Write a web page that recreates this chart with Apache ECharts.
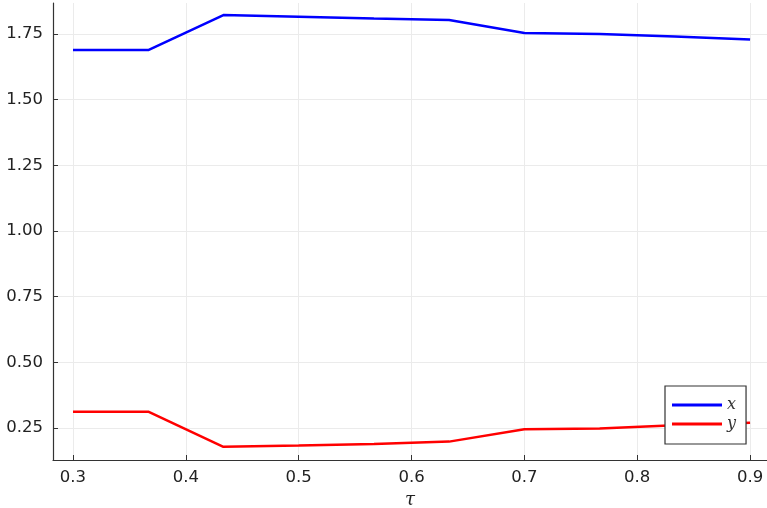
<!DOCTYPE html>
<html><head><meta charset="utf-8">
<script src="https://cdn.jsdelivr.net/npm/echarts@6/dist/echarts.min.js"></script>
<style>html,body{margin:0;padding:0;background:#fff}#c{width:767px;height:508px}</style>
</head><body><div id="c"></div>
<script>
const tau = [0.3, 0.3667, 0.4333, 0.5, 0.5667, 0.6333, 0.7, 0.7667, 0.8333, 0.9];
const xVals = [1.689, 1.689, 1.822, 1.816, 1.809, 1.803, 1.754, 1.750, 1.740, 1.729];
const yVals = [0.312, 0.312, 0.178, 0.183, 0.189, 0.198, 0.245, 0.248, 0.260, 0.270];
const yTicks = [0.25, 0.5, 0.75, 1.0, 1.25, 1.5, 1.75];
const xTicks = [0.3, 0.4, 0.5, 0.6, 0.7, 0.8, 0.9];
const seriesNames = ['x', 'y'];

const chart = echarts.init(document.getElementById('c'));
const lab = {color:'#222', fontFamily:'DejaVu Sans', fontSize:16.5};
chart.setOption({
  animation:false,
  grid:{left:53, right:0, top:3, bottom:48, outerBoundsMode:'none', containLabel:false},
  xAxis:{type:'value', min:0.2823, max:0.915,
    name:'τ', nameLocation:'middle', nameGap:31,
    nameTextStyle:{fontFamily:'DejaVu Serif', fontStyle:'italic', fontSize:18, color:'#222'},
    axisLine:{show:true, onZero:false, lineStyle:{color:'#333', width:1.2}},
    axisTick:{show:true, inside:true, length:5, customValues:xTicks, lineStyle:{color:'#333'}},
    axisLabel:Object.assign({customValues:xTicks, margin:9, formatter:v=>v.toFixed(1)}, lab),
    splitLine:{show:true, lineStyle:{color:'#ebebeb', width:1}}
  },
  yAxis:{type:'value', min:0.128, max:1.868,
    axisLine:{show:true, onZero:false, lineStyle:{color:'#333', width:1.2}},
    axisTick:{show:true, inside:true, length:5, customValues:yTicks, lineStyle:{color:'#333'}},
    axisLabel:Object.assign({customValues:yTicks, margin:10, formatter:v=>v.toFixed(2)}, lab),
    splitLine:{show:true, lineStyle:{color:'#ebebeb', width:1}}
  },
  legend:{show:true, orient:'vertical', left:665, top:386,
    padding:[11,10,12,7], itemGap:3, itemWidth:50, itemHeight:3, icon:'rect',
    borderColor:'#333', borderWidth:1.2, backgroundColor:'#fff',
    textStyle:{fontFamily:'DejaVu Serif', fontStyle:'italic', fontSize:16, color:'#333'},
    data:seriesNames},
  series:[
    {name:seriesNames[0], type:'line', symbol:'none', data:tau.map((t,i)=>[t,xVals[i]]),
      lineStyle:{color:'#0000ff', width:2.5}, itemStyle:{color:'#0000ff'}},
    {name:seriesNames[1], type:'line', symbol:'none', data:tau.map((t,i)=>[t,yVals[i]]),
      lineStyle:{color:'#ff0000', width:2.5}, itemStyle:{color:'#ff0000'}}
  ]
});
</script></body></html>
